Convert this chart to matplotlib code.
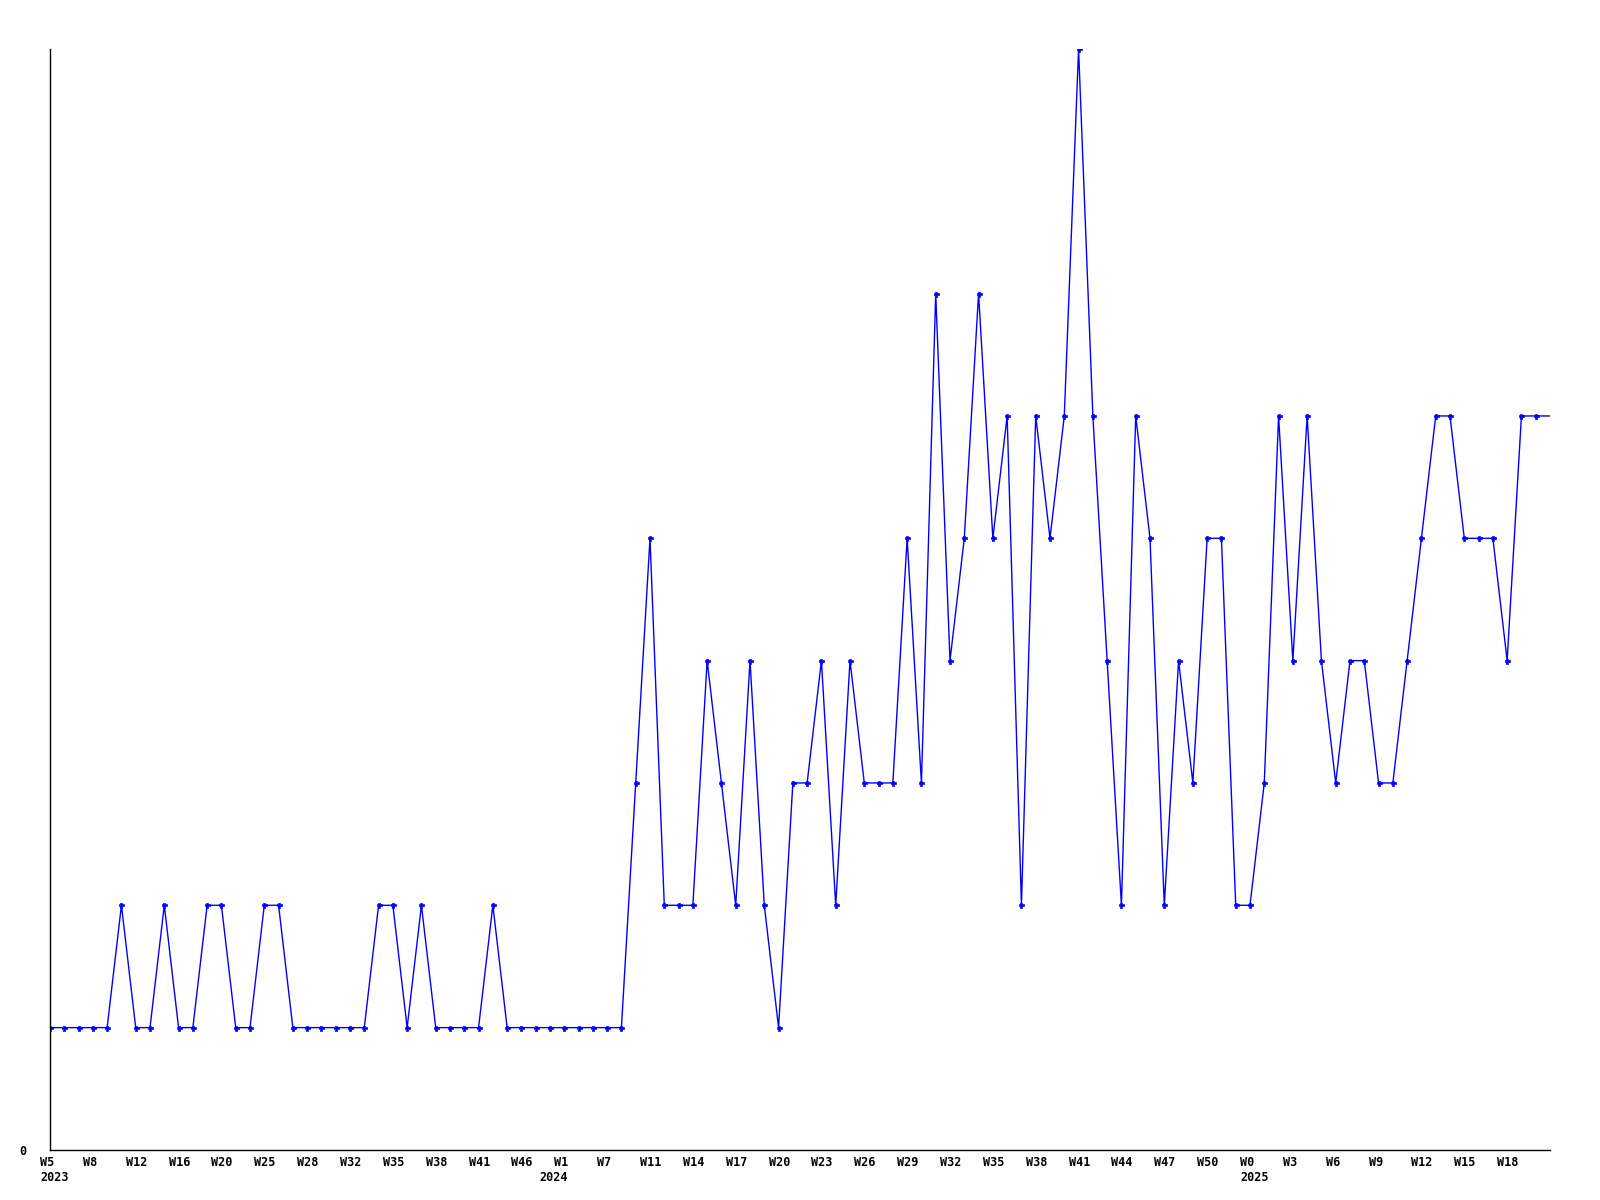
import numpy as np
import matplotlib.pyplot as plt
import matplotlib.transforms as mtransforms

# weekly counts, one per week starting at W5 2023
counts = [1, 1, 1, 1, 1, 2, 1, 1, 2, 1,
          1, 2, 2, 1, 1, 2, 2, 1, 1, 1,
          1, 1, 1, 2, 2, 1, 2, 1, 1, 1,
          1, 2, 1, 1, 1, 1, 1, 1, 1, 1,
          1, 3, 5, 2, 2, 2, 4, 3, 2, 4,
          2, 1, 3, 3, 4, 2, 4, 3, 3, 3,
          5, 3, 7, 4, 5, 7, 5, 6, 2, 6,
          5, 6, 9, 6, 4, 2, 6, 5, 2, 4,
          3, 5, 5, 2, 2, 3, 6, 4, 6, 4,
          3, 4, 4, 3, 3, 4, 5, 6, 6, 5,
          5, 5, 4, 6, 6, 6]

week_labels = ['W5', 'W8', 'W12', 'W16', 'W20', 'W25', 'W28', 'W32', 'W35',
               'W38', 'W41', 'W46', 'W1', 'W7', 'W11', 'W14', 'W17', 'W20',
               'W23', 'W26', 'W29', 'W32', 'W35', 'W38', 'W41', 'W44', 'W47',
               'W50', 'W0', 'W3', 'W6', 'W9', 'W12', 'W15', 'W18']
# label index -> year text
year_labels = {0: '2023', 12: '2024', 28: '2025'}

x = np.arange(len(counts))

fig = plt.figure(figsize=(16, 12), dpi=100)
ax = fig.add_axes([0.03125, 0.0417, 0.9375, 0.9175])

ax.plot(x, counts, color='#0000ff', linewidth=1.0, marker='P',
        markersize=3.6, markeredgewidth=0.5,
        markevery=list(range(len(counts) - 1)))

ax.set_xlim(0, len(counts) - 1)
ax.set_ylim(0, max(counts))

font = dict(fontfamily='DejaVu Sans Mono', fontweight='bold', fontsize=8.5)
trans = mtransforms.blended_transform_factory(ax.transData, ax.transAxes)
ticks = x[::3][:len(week_labels)]
for k, lab in enumerate(week_labels):
    t = mtransforms.offset_copy(trans, fig=fig, x=-10, y=-6, units='dots')
    ax.text(ticks[k], 0, lab, transform=t, ha='left', va='top', **font)
    if k in year_labels:
        dx = -25 if year_labels[k] == '2024' else -10
        t2 = mtransforms.offset_copy(trans, fig=fig, x=dx, y=-21, units='dots')
        ax.text(ticks[k], 0, year_labels[k], transform=t2, ha='left',
                va='top', **font)

ax.set_xticks([])
ax.set_yticks([0])
ax.set_yticklabels(['0'], **font)
ax.tick_params(axis='y', length=0, pad=17)

for side in ['top', 'right']:
    ax.spines[side].set_visible(False)
for side in ['left', 'bottom']:
    ax.spines[side].set_color('black')
    ax.spines[side].set_linewidth(1)

plt.savefig('out.png', dpi=100)
